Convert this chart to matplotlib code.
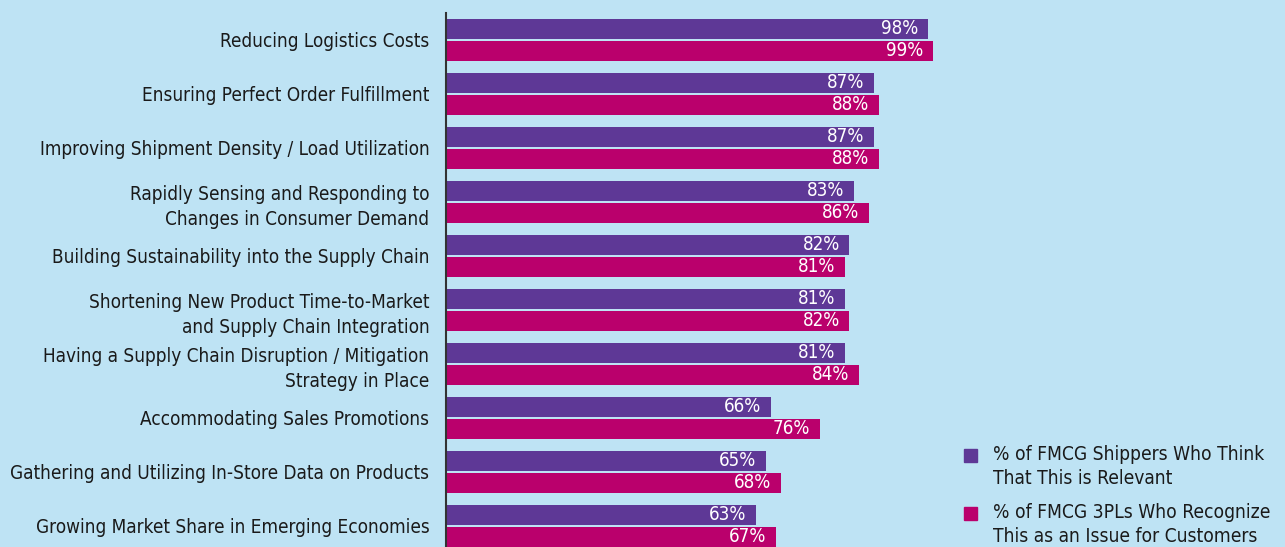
import matplotlib.pyplot as plt
from matplotlib.patches import Rectangle

categories = [
    "Reducing Logistics Costs",
    "Ensuring Perfect Order Fulfillment",
    "Improving Shipment Density / Load Utilization",
    "Rapidly Sensing and Responding to\nChanges in Consumer Demand",
    "Building Sustainability into the Supply Chain",
    "Shortening New Product Time-to-Market\nand Supply Chain Integration",
    "Having a Supply Chain Disruption / Mitigation\nStrategy in Place",
    "Accommodating Sales Promotions",
    "Gathering and Utilizing In-Store Data on Products",
    "Growing Market Share in Emerging Economies",
]
shippers = [98, 87, 87, 83, 82, 81, 81, 66, 65, 63]
tpls = [99, 88, 88, 86, 81, 82, 84, 76, 68, 67]
series_names = [
    "% of FMCG Shippers Who Think\nThat This is Relevant",
    "% of FMCG 3PLs Who Recognize\nThis as an Issue for Customers",
]

bg = "#BEE3F4"
purple = "#5E3896"
magenta = "#BA006C"
plt.rcParams['font.family'] = ["DejaVu Sans"]
plt.rcParams['font.stretch'] = "condensed"

fig = plt.figure(figsize=(12.85, 5.47), dpi=100, facecolor=bg)
W, H = 1285, 547
ax = fig.add_axes([446 / W, 0, (938 - 446) / W, 534 / H])
ax.set_facecolor(bg)

off = 11 / 54
h = 20 / 54
ys = list(range(len(categories)))
ax.barh([y - off for y in ys], shippers, height=h, color=purple)
ax.barh([y + off for y in ys], tpls, height=h, color=magenta)

for y, a, b in zip(ys, shippers, tpls):
    ax.annotate(f"{a}%", (a, y - off), xytext=(-7, 0), textcoords="offset points",
                ha="right", va="center", color="white", fontsize=13.5)
    ax.annotate(f"{b}%", (b, y + off), xytext=(-7, 0), textcoords="offset points",
                ha="right", va="center", color="white", fontsize=13.5)

ax.set_xlim(0, 100)
ax.set_ylim(9.389, -0.5)
ax.set_yticks(ys)
ax.set_yticklabels(categories, fontsize=13.6, color="#1a1a1a", linespacing=1.4)
ax.tick_params(axis="y", length=0, pad=12)
ax.set_xticks([])
for s in ["top", "right", "bottom"]:
    ax.spines[s].set_visible(False)
ax.spines["left"].set_color("#333333")
ax.spines["left"].set_linewidth(1.5)

# legend drawn by hand so the square sits on the first text line
for i, (name, col) in enumerate(zip(series_names, [purple, magenta])):
    top = 449 + i * 58
    fig.patches.append(Rectangle((964 / W, 1 - (top + 13) / H), 13 / W, 13 / H,
                                 transform=fig.transFigure, color=col))
    fig.text(993 / W, 1 - (top - 4) / H, name, ha="left", va="top", fontsize=13.8,
             color="#1a1a1a", linespacing=1.3)

fig.savefig("out.png", dpi=100, facecolor=bg)
